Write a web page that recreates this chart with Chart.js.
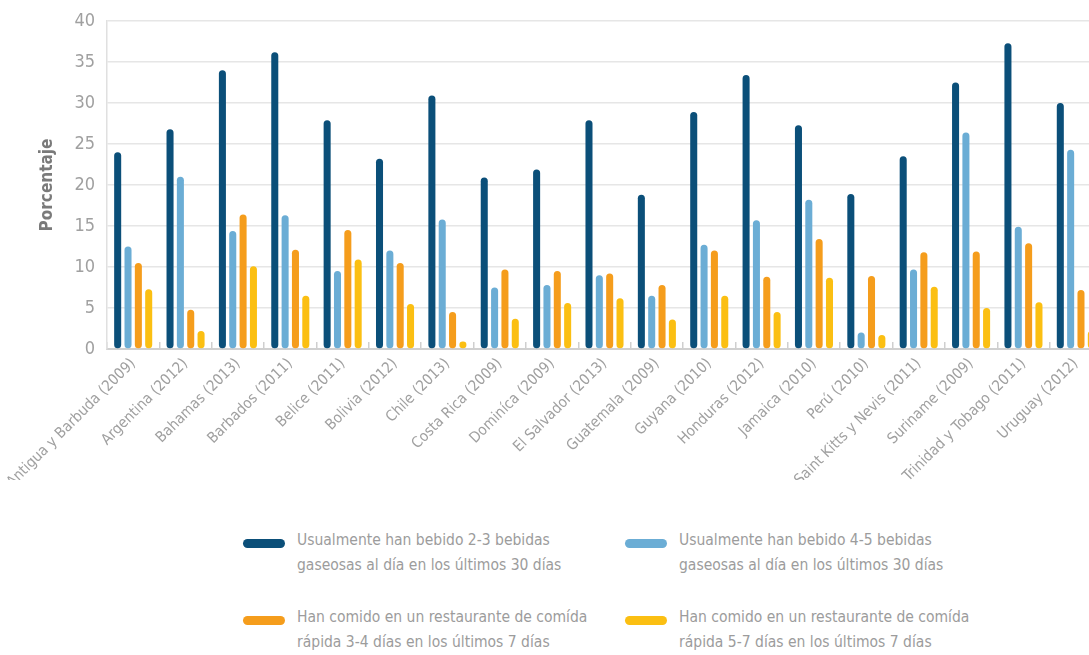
<!DOCTYPE html>
<html>
<head>
<meta charset="utf-8">
<script src="https://cdn.jsdelivr.net/npm/chart.js@4"></script>
<style>
  html, body { margin: 0; padding: 0; background: #fff; overflow: hidden; }
  body { width: 1089px; height: 655px; position: relative; }
  #wrap { position: absolute; left: 0; top: 0; width: 1102px; height: 480px; }
  .legend { position: absolute; font-family: "Liberation Sans Narrow", "DejaVu Sans Condensed", "Arial Narrow", sans-serif;
            font-size: 15.5px; line-height: 25px; color: #9c9c9c; }
  .legend .sw { position: absolute; left: 0; top: 11px; width: 42px; height: 9px; border-radius: 5px; }
  .legend .tx { position: absolute; left: 54px; top: 0; white-space: nowrap; }
</style>
</head>
<body>
<div id="wrap"><canvas id="chart"></canvas></div>
<div id="legend"></div>
<script>
// countries (survey year)
const categories = [
  'Antigua y Barbuda (2009)', 'Argentina (2012)', 'Bahamas (2013)', 'Barbados (2011)', 'Belice (2011)',
  'Bolivia (2012)', 'Chile (2013)', 'Costa Rica (2009)', 'Dominíca (2009)', 'El Salvador (2013)',
  'Guatemala (2009)', 'Guyana (2010)', 'Honduras (2012)', 'Jamaica (2010)', 'Perú (2010)',
  'Saint Kitts y Nevis (2011)', 'Suriname (2009)', 'Trinidad y Tobago (2011)', 'Uruguay (2012)'
];

const soda23 = [24.0, 26.8, 34.0, 36.2, 27.9, 23.2, 30.9, 20.9, 21.9, 27.9, 18.8, 28.9, 33.4, 27.3, 18.9, 23.5, 32.5, 37.3, 30.0];
const soda45 = [12.5, 21.0, 14.4, 16.3, 9.5, 12.0, 15.8, 7.5, 7.8, 9.0, 6.5, 12.7, 15.7, 18.2, 2.0, 9.7, 26.4, 14.9, 24.3];
const fast34 = [10.5, 4.8, 16.4, 12.1, 14.5, 10.5, 4.5, 9.7, 9.5, 9.2, 7.8, 12.0, 8.8, 13.4, 8.9, 11.8, 11.9, 12.9, 7.2];
const fast57 = [7.3, 2.2, 10.1, 6.5, 10.9, 5.5, 0.9, 3.7, 5.6, 6.2, 3.6, 6.5, 4.5, 8.7, 1.7, 7.6, 5.0, 5.7, 2.2];

const yTicks = [0, 5, 10, 15, 20, 25, 30, 35, 40];

const seriesLabels = [
  ['Usualmente han bebido 2-3 bebidas', 'gaseosas al día en los últimos 30 días'],
  ['Usualmente han bebido 4-5 bebidas', 'gaseosas al día en los últimos 30 días'],
  ['Han comido en un restaurante de comída', 'rápida 3-4 días en los últimos 7 días'],
  ['Han comido en un restaurante de comída', 'rápida 5-7 días en los últimos 7 días']
];
const colors = ['#0b4f79', '#6badd5', '#f59d1c', '#fbbf12'];

const FONT = '"Liberation Sans Narrow", "DejaVu Sans Condensed", "Arial Narrow", sans-serif';

const seriesData = [soda23, soda45, fast34, fast57];
const datasets = seriesData.map((d, i) => ({
  label: seriesLabels[i].join(' '),
  data: d,
  backgroundColor: colors[i],
  borderRadius: 4,
  borderSkipped: false,
  barPercentage: 0.68,
  categoryPercentage: 0.79
}));

new Chart(document.getElementById('chart'), {
  type: 'bar',
  data: { labels: categories, datasets: datasets },
  options: {
    responsive: true,
    maintainAspectRatio: false,
    animation: false,
    layout: { padding: { top: 21, right: 0, left: 0, bottom: 0 } },
    plugins: { legend: { display: false }, tooltip: { enabled: false } },
    scales: {
      x: {
        grid: { drawOnChartArea: false, drawTicks: true, tickLength: -7, tickColor: '#cfcfcf', lineWidth: 1.5 },
        border: { color: '#d0d0d0', width: 2 },
        ticks: {
          color: '#a0a0a0', font: { family: FONT, size: 15 },
          maxRotation: 45, minRotation: 45, padding: 13, autoSkip: false
        },
        afterFit: s => { s.height = 131; s.paddingLeft = 0; s.paddingRight = 0; }
      },
      y: {
        min: 0, max: 40,
        afterBuildTicks: s => { s.ticks = yTicks.map(v => ({ value: v })); },
        grid: { color: '#e6e6e6', lineWidth: 1.5, drawTicks: false },
        border: { color: '#e0e0e0', width: 1.5 },
        ticks: { color: '#a0a0a0', font: { family: FONT, size: 18 }, padding: 12 },
        title: { display: true, text: 'Porcentaje', color: '#7a7a7a',
                 font: { family: FONT, size: 17, weight: 'bold' }, padding: { top: 37, bottom: 0 } },
        afterFit: s => { s.width = 107; s.paddingTop = 0; s.paddingBottom = 0; }
      }
    }
  }
});

// legend built from the series labels
const legendPos = [[243, 528], [625, 528], [243, 605], [625, 605]];
const lg = document.getElementById('legend');
seriesLabels.forEach((lines, i) => {
  const el = document.createElement('div');
  el.className = 'legend';
  el.style.left = legendPos[i][0] + 'px';
  el.style.top = legendPos[i][1] + 'px';
  el.innerHTML = '<div class="sw" style="background:' + colors[i] + '"></div><div class="tx">' + lines.join('<br>') + '</div>';
  lg.appendChild(el);
});
</script>
</body>
</html>
